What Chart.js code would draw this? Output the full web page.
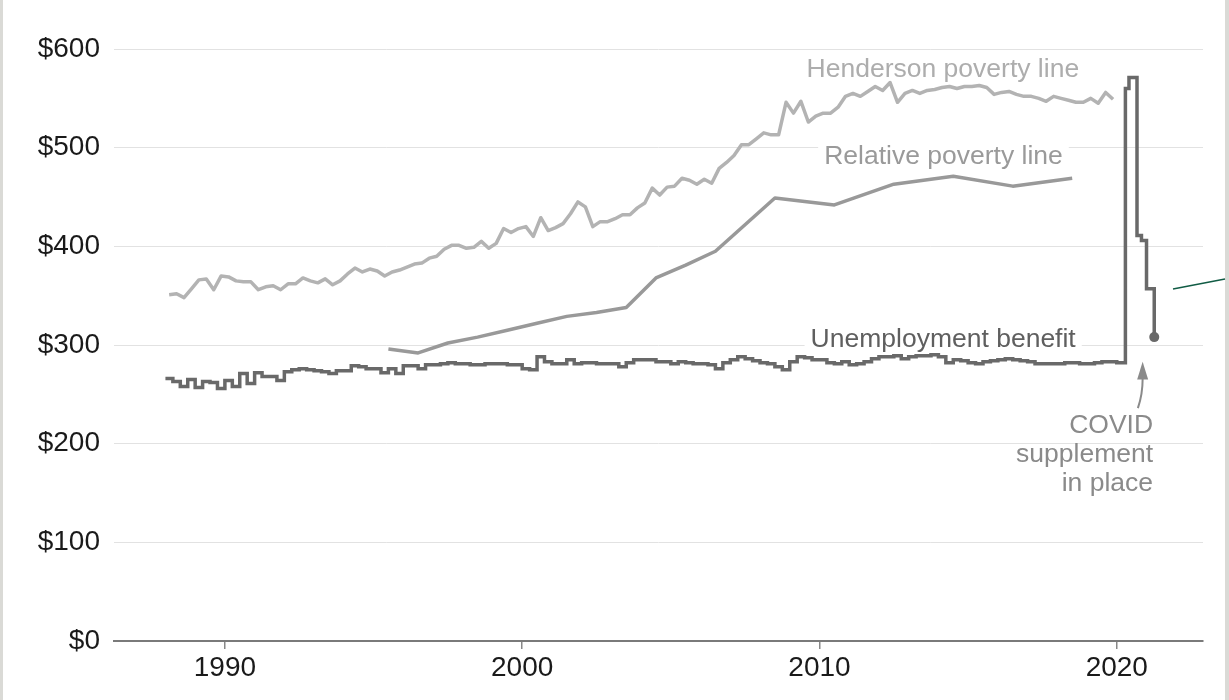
<!DOCTYPE html>
<html>
<head>
<meta charset="utf-8">
<script src="https://cdn.jsdelivr.net/npm/chart.js@4"></script>
<style>
  html, body { margin: 0; padding: 0; background: #ffffff; }
  canvas { display: block; }
</style>
</head>
<body>
<canvas id="chart" width="1229" height="700"></canvas>
<script>
// axis ticks
const xTicks = [1990, 2000, 2010, 2020];
const yTicks = [0, 100, 200, 300, 400, 500, 600];

// Henderson poverty line, quarterly, first point mid Q1 1988
const hendersonStart = 1988.125;
const hendersonValues = [
  351, 352, 348, 357, 366, 367, 356, 370, 369, 365, 364, 364, 356, 359, 360, 356,
  362, 362, 368, 365, 363, 367, 361, 365, 372, 378, 374, 377, 375, 370, 374, 376,
  379, 382, 383, 388, 390, 397, 401, 401, 398, 399, 405, 398, 403, 418, 414, 418,
  420, 410, 429, 416, 419, 423, 433, 445, 440, 420, 425, 425, 428, 432, 432, 439,
  444, 459, 452, 460, 461, 469, 467, 463, 468, 464, 479, 485, 492, 503, 503, 509,
  515, 513, 513, 546, 535, 547, 526, 532, 535, 535, 541, 552, 555, 552, 557, 562,
  558, 566, 546, 555, 558, 555, 558, 559, 561, 562, 560, 562, 562, 563, 561, 554,
  556, 557, 554, 552, 552, 550, 547, 552, 550, 548, 546, 546, 550, 545, 556, 549
];

// Relative poverty line (survey years)
const relativeYears = [1995.5, 1996.5, 1997.5, 1998.5, 1999.5, 2000.5, 2001.5, 2002.5, 2003.5,
  2004.5, 2005.5, 2006.5, 2008.5, 2010.5, 2012.5, 2014.5, 2016.5, 2018.5];
const relativeValues = [296, 292, 302, 308, 315, 322, 329, 333, 338,
  368, 381, 395, 449, 442, 463, 471, 461, 469];

// Unemployment benefit, quarterly from 1988 Q1 to 2020 Q1
const benefitStart = 1988;
const benefitValues = [
  266, 263, 258, 265, 257, 263, 262, 256, 264, 258, 271, 261, 272, 268, 268, 264,
  273, 275, 276, 275, 274, 273, 271, 274, 274, 279, 278, 276, 276, 272, 276, 271,
  279, 279, 276, 280, 280, 281, 282, 281, 281, 280, 280, 281, 281, 281, 280, 280,
  276, 275, 288, 283, 281, 281, 285, 281, 282, 282, 281, 281, 281, 278, 282, 285,
  285, 285, 283, 283, 281, 283, 282, 281, 281, 280, 276, 282, 285, 288, 286, 284,
  282, 281, 278, 275, 283, 288, 287, 285, 285, 282, 281, 283, 280, 281, 283, 286,
  288, 288, 289, 286, 288, 289, 289, 290, 288, 282, 285, 284, 282, 281, 283, 284,
  285, 286, 285, 284, 283, 281, 281, 281, 281, 282, 282, 281, 281, 282, 283, 283,
  282
];
// COVID supplement period
const covidYears = [2020.29, 2020.41, 2020.68, 2020.83, 2021.0, 2021.26];
const covidValues = [560, 571, 411, 406, 357, 308];

const FONT = "'Liberation Sans', Arial, Helvetica, sans-serif";

const hendersonData = hendersonValues.map((v, i) => ({ x: hendersonStart + i * 0.25, y: v }));
const relativeData = relativeYears.map((yr, i) => ({ x: yr, y: relativeValues[i] }));
const benefitData = benefitValues.map((v, i) => ({ x: benefitStart + i * 0.25, y: v }))
  .concat(covidYears.map((yr, i) => ({ x: yr, y: covidValues[i] })));

// page frame: grey strips at both edges, and the stray green pointer line on the right
const framePlugin = {
  id: 'frame',
  beforeDraw(chart) {
    const { ctx, width, height } = chart;
    ctx.save();
    ctx.fillStyle = '#ffffff';
    ctx.fillRect(0, 0, width, height);
    ctx.fillStyle = '#dadad6';
    ctx.fillRect(0, 0, 3, height);
    ctx.fillRect(width - 4, 0, 4, height);
    ctx.restore();
  },
  afterDraw(chart) {
    const { ctx } = chart;
    ctx.save();
    ctx.strokeStyle = '#115c45';
    ctx.lineWidth = 1.5;
    ctx.beginPath();
    ctx.moveTo(1173, 289);
    ctx.lineTo(1225, 279);
    ctx.stroke();
    ctx.restore();
  }
};

// direct labels and the COVID note
const labelPlugin = {
  id: 'labels',
  beforeDatasetsDraw(chart) {
    const { ctx, scales: { x, y } } = chart;
    const labels = [
      { text: 'Henderson poverty line', year: 2014.15, value: 579, color: '#adadad' },
      { text: 'Relative poverty line', year: 2014.17, value: 491, color: '#9a9a9a' },
      { text: 'Unemployment benefit', year: 2014.16, value: 305, color: '#5f5f5f' }
    ];
    ctx.save();
    ctx.font = '26.5px ' + FONT;
    ctx.textAlign = 'center';
    ctx.textBaseline = 'middle';
    labels.forEach(l => {
      const px = x.getPixelForValue(l.year);
      const py = y.getPixelForValue(l.value);
      const w = ctx.measureText(l.text).width;
      ctx.fillStyle = '#ffffff';
      ctx.fillRect(px - w / 2 - 6, py - 12, w + 12, 20);
      ctx.fillStyle = l.color;
      ctx.fillText(l.text, px, py);
    });

    // COVID note, right aligned
    const note = ['COVID', 'supplement', 'in place'];
    ctx.textAlign = 'right';
    ctx.fillStyle = '#8a8a8a';
    const nx = x.getPixelForValue(2021.22);
    const ny = y.getPixelForValue(218);
    note.forEach((t, i) => ctx.fillText(t, nx, ny + i * 29));

    // arrow pointing up to the supplement step
    const ax0 = x.getPixelForValue(2020.71), ay0 = y.getPixelForValue(236);
    const cx = x.getPixelForValue(2020.87), cy = y.getPixelForValue(250);
    const ax1 = x.getPixelForValue(2020.87), ay1 = y.getPixelForValue(266);
    const tipY = y.getPixelForValue(283);
    ctx.strokeStyle = '#8a8a8a';
    ctx.lineWidth = 2;
    ctx.beginPath();
    ctx.moveTo(ax0, ay0);
    ctx.quadraticCurveTo(cx, cy, ax1, ay1);
    ctx.stroke();
    ctx.beginPath();
    ctx.moveTo(ax1 - 5.5, ay1 + 1);
    ctx.lineTo(ax1, tipY);
    ctx.lineTo(ax1 + 5.5, ay1 + 1);
    ctx.closePath();
    ctx.fillStyle = '#8a8a8a';
    ctx.fill();
    ctx.restore();
  }
};

new Chart(document.getElementById('chart'), {
  type: 'line',
  data: {
    datasets: [{
      label: 'Unemployment benefit',
      data: benefitData,
      borderColor: '#696969',
      borderWidth: 3.5,
      stepped: true,
      pointRadius: ctx => ctx.dataIndex === benefitData.length - 1 ? 5 : 0,
      pointBackgroundColor: '#696969',
      pointBorderWidth: 0
    }, {
      label: 'Relative poverty line',
      data: relativeData,
      borderColor: '#999999',
      borderWidth: 3.5,
      borderJoinStyle: 'round',
      pointRadius: 0
    }, {
      label: 'Henderson poverty line',
      data: hendersonData,
      borderColor: '#b3b3b3',
      borderWidth: 3.5,
      borderJoinStyle: 'round',
      pointRadius: 0
    }]
  },
  options: {
    responsive: false,
    animation: false,
    layout: { padding: { left: 0, top: 49, right: 26, bottom: 0 } },
    plugins: { legend: { display: false }, tooltip: { enabled: false } },
    scales: {
      x: {
        type: 'linear',
        min: 1986.27,
        max: 2022.9,
        afterBuildTicks: scale => { scale.ticks = xTicks.map(v => ({ value: v })); },
        afterFit: scale => { scale.height = 59; },
        grid: { drawOnChartArea: false, drawTicks: true, tickLength: 8, color: '#888888', lineWidth: 1.5 },
        border: { display: true, color: '#7a7a7a', width: 2 },
        ticks: { padding: 2, color: '#1a1a1a', font: { family: FONT, size: 28 }, maxRotation: 0, callback: v => String(v) }
      },
      y: {
        min: 0,
        max: 600,
        afterBuildTicks: scale => { scale.ticks = yTicks.map(v => ({ value: v })); },
        afterFit: scale => { scale.width = 114; },
        grid: { color: '#e2e2e2', lineWidth: 1, drawTicks: false },
        border: { display: false },
        ticks: { padding: 14, color: '#1a1a1a', font: { family: FONT, size: 28 }, callback: v => '$' + v }
      }
    }
  },
  plugins: [framePlugin, labelPlugin]
});
</script>
</body>
</html>
